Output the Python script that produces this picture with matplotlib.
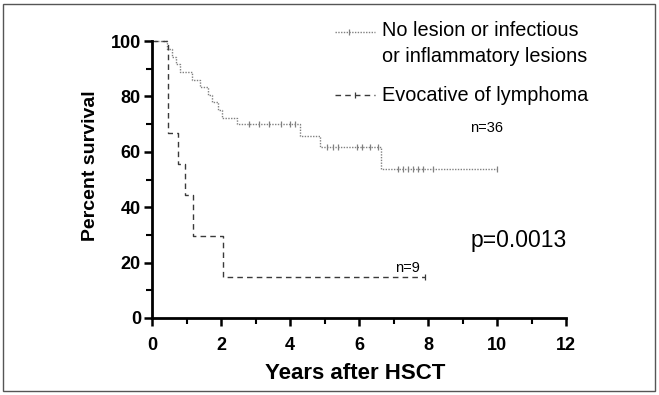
import numpy as np
import matplotlib.pyplot as plt
from matplotlib.lines import Line2D
from matplotlib.patches import Rectangle

plt.rcParams['font.family'] = ['Liberation Sans', 'DejaVu Sans']

# no lesion / infectious / inflammatory (n=36)
t_no = [0, 0.43, 0.57, 0.70, 0.81, 1.15, 1.39, 1.62, 1.73, 1.91, 2.02, 2.45, 4.29, 4.87, 6.63, 10.0]
s_no = [100, 97.2, 94.4, 91.7, 88.9, 86.1, 83.3, 80.6, 77.8, 75.0, 72.2, 69.9, 65.8, 61.7, 53.9, 53.9]
cens_no = [2.8, 3.1, 3.4, 3.75, 4.0, 4.15, 5.06, 5.25, 5.4, 5.93, 6.08, 6.32, 6.55,
           7.13, 7.28, 7.42, 7.57, 7.71, 7.86, 8.14, 10.0]

# evocative of lymphoma (n=9)
t_ly = [0, 0.45, 0.75, 0.95, 1.19, 2.06, 7.9]
s_ly = [100, 66.7, 55.6, 44.4, 29.6, 14.8, 14.8]
cens_ly = [7.9]

labels = ["No lesion or infectious\nor inflammatory lesions", "Evocative of lymphoma"]


def at(t, s, x):
    t = np.asarray(t)
    s = np.asarray(s)
    return s[np.searchsorted(t, x, side='right') - 1]


fig = plt.figure(figsize=(6.59, 3.95), dpi=100)
ax = fig.add_axes([152 / 659, 1 - 318 / 395, 414 / 659, 277 / 395])

c1 = '#808080'
c2 = '#3a3a3a'
ax.step(t_no, s_no, where='post', color=c1, lw=1.0, ls=(0, (1, 1)), clip_on=False)
ax.plot(cens_no, at(t_no, s_no, cens_no), ls='none', marker='|', ms=5, mew=0.9,
        color=c1, clip_on=False)
ax.step(t_ly, s_ly, where='post', color=c2, lw=1.0, ls=(0, (4, 3)), clip_on=False)
ax.plot(cens_ly, at(t_ly, s_ly, cens_ly), ls='none', marker='|', ms=5, mew=0.9,
        color=c2, clip_on=False)

ax.set_xlim(0, 12)
ax.set_ylim(0, 100)
ax.set_xticks(np.arange(0, 13, 2))
ax.set_xticks(np.arange(0, 13, 1), minor=True)
ax.set_yticks(np.arange(0, 101, 20))
ax.set_yticks(np.arange(0, 101, 10), minor=True)
for side in ['top', 'right']:
    ax.spines[side].set_visible(False)
for side in ['left', 'bottom']:
    ax.spines[side].set_linewidth(2.0)
ax.tick_params(which='major', length=6, width=1.8, direction='out', labelsize=13, pad=2)
ax.tick_params(axis='x', which='major', pad=8)
ax.tick_params(which='minor', length=4, width=1.5, direction='out')
for lab in ax.get_xticklabels() + ax.get_yticklabels():
    lab.set_fontweight('bold')

ax.set_xlabel('Years after HSCT', fontsize=16, fontweight='bold')
ax.set_ylabel('Percent survival', fontsize=14, fontweight='bold')
ax.xaxis.set_label_coords(0.4915, -0.162)
ax.yaxis.set_label_coords(-0.128, 0.549)

# legend drawn by hand
ax.add_line(Line2D([0.442, 0.539], [1.032, 1.032], transform=ax.transAxes,
                   color=c1, lw=1.0, ls=(0, (1, 1)), clip_on=False))
ax.add_line(Line2D([0.475], [1.032], transform=ax.transAxes, color=c1, marker='|',
                   ms=5, mew=0.9, clip_on=False))
ax.add_line(Line2D([0.442, 0.539], [0.805, 0.805], transform=ax.transAxes,
                   color=c2, lw=1.0, ls=(0, (4, 3)), clip_on=False))
ax.add_line(Line2D([0.49], [0.805], transform=ax.transAxes, color=c2, marker='|',
                   ms=5, mew=0.9, clip_on=False))
ax.text(0.556, 0.99, labels[0], transform=ax.transAxes, fontsize=14.3,
        va='center', ha='left', linespacing=1.45)
ax.text(0.556, 0.805, labels[1], transform=ax.transAxes, fontsize=14.3,
        va='center', ha='left')

ax.text(9.22, 68.6, 'n=36', fontsize=10.5, va='center')
ax.text(7.04, 18.0, 'n=9', fontsize=10.5, va='center')
ax.text(9.22, 28.0, 'p=0.0013', fontsize=16.5, va='center')

fig.patches.append(Rectangle((3 / 659, 4 / 395), 652 / 659, 387 / 395,
                             transform=fig.transFigure, fill=False,
                             edgecolor='#555555', lw=1.0))

fig.savefig('out.png', dpi=100)
